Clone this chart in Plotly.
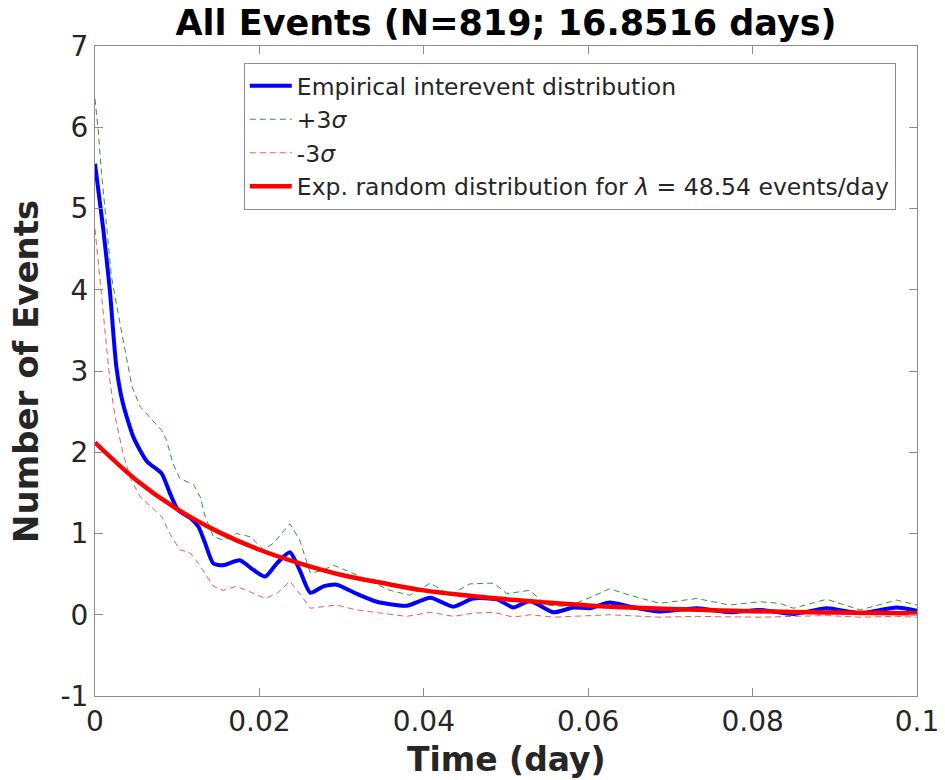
import plotly.graph_objects as go

# Empirical inter-event distribution (time in days, number of events)
emp_x = [0, 0.001, 0.0018, 0.0026, 0.0034, 0.0047, 0.0063, 0.0081, 0.0091, 0.0101,
         0.0116, 0.0126, 0.0134, 0.0144, 0.0156, 0.0176, 0.0193, 0.0207, 0.0221, 0.0237,
         0.0249, 0.0262, 0.0278, 0.0294, 0.0318, 0.0343, 0.0379, 0.0408, 0.0436, 0.0460,
         0.0489, 0.0509, 0.0529, 0.0558, 0.0582, 0.0602, 0.0626, 0.0651, 0.0687, 0.0732,
         0.0772, 0.0809, 0.0850, 0.0890, 0.0931, 0.0975, 0.1]
emp_y = [5.55, 4.75, 4.00, 3.05, 2.60, 2.18, 1.89, 1.74, 1.50, 1.29,
         1.19, 1.08, 0.88, 0.63, 0.61, 0.67, 0.55, 0.47, 0.63, 0.77,
         0.55, 0.27, 0.35, 0.37, 0.26, 0.16, 0.11, 0.21, 0.10, 0.20,
         0.19, 0.09, 0.17, 0.03, 0.09, 0.08, 0.15, 0.10, 0.04, 0.08,
         0.03, 0.06, 0.01, 0.08, 0.02, 0.09, 0.05]

# Upper bound (+3 sigma)
up_x = [0, 0.0004, 0.0008, 0.0014, 0.002, 0.0032, 0.0045, 0.0055, 0.0070, 0.0081,
        0.0087, 0.0095, 0.0103, 0.0120, 0.0128, 0.0134, 0.0144, 0.0156, 0.0172, 0.0189,
        0.0205, 0.0217, 0.0237, 0.0249, 0.0262, 0.0278, 0.0290, 0.0314, 0.0339, 0.0359,
        0.0383, 0.0408, 0.0432, 0.0456, 0.0485, 0.0501, 0.0529, 0.0549, 0.0574, 0.0602,
        0.0626, 0.0651, 0.0687, 0.0732, 0.0772, 0.0809, 0.0833, 0.0850, 0.0890, 0.0931,
        0.0975, 0.1]
up_y = [6.35, 5.95, 5.43, 4.82, 4.16, 3.50, 2.81, 2.56, 2.40, 2.27,
        2.15, 1.86, 1.68, 1.60, 1.45, 1.21, 0.96, 0.92, 1.00, 0.96,
        0.80, 0.88, 1.12, 0.92, 0.51, 0.55, 0.61, 0.51, 0.39, 0.30,
        0.24, 0.39, 0.24, 0.38, 0.39, 0.26, 0.30, 0.12, 0.10, 0.21,
        0.32, 0.24, 0.14, 0.20, 0.12, 0.16, 0.14, 0.08, 0.19, 0.06,
        0.18, 0.12]

# Lower bound (-3 sigma)
lo_x = [0, 0.0006, 0.0012, 0.0018, 0.0024, 0.0034, 0.0043, 0.0055, 0.0081, 0.0091,
        0.0103, 0.0116, 0.0126, 0.0144, 0.0156, 0.0172, 0.0189, 0.0207, 0.0221, 0.0237,
        0.0249, 0.0262, 0.0278, 0.0294, 0.0318, 0.0359, 0.0379, 0.0408, 0.0436, 0.0460,
        0.0485, 0.0509, 0.0529, 0.0558, 0.0626, 0.0687, 0.0732, 0.0809, 0.0890, 0.0931,
        0.0975, 0.1]
lo_y = [4.75, 4.12, 3.50, 2.89, 2.46, 1.99, 1.68, 1.45, 1.21, 1.00,
        0.80, 0.76, 0.63, 0.35, 0.30, 0.35, 0.28, 0.20, 0.26, 0.41,
        0.26, 0.08, 0.10, 0.12, 0.06, 0.00, -0.02, 0.03, -0.02, 0.02,
        0.03, -0.03, 0.00, -0.03, 0.00, -0.03, -0.02, -0.03, -0.01, -0.03,
        -0.02, -0.03]

# Exponential (random) reference distribution, lambda = 48.54 events/day
exp_x = [0, 0.005, 0.01, 0.015, 0.02, 0.025, 0.03, 0.035, 0.04, 0.045, 0.05,
         0.055, 0.06, 0.065, 0.07, 0.075, 0.08, 0.085, 0.09, 0.095, 0.1]
exp_y = [2.12, 1.66, 1.30, 1.02, 0.80, 0.63, 0.49, 0.39, 0.30, 0.24, 0.19,
         0.15, 0.115, 0.09, 0.07, 0.056, 0.044, 0.034, 0.027, 0.021, 0.017]

x_ticks = [0, 0.02, 0.04, 0.06, 0.08, 0.1]
x_tick_text = ["0", "0.02", "0.04", "0.06", "0.08", "0.1"]
y_ticks = [-1, 0, 1, 2, 3, 4, 5, 6, 7]
y_tick_text = ["-1", "0", "1", "2", "3", "4", "5", "6", "7"]

FONT = "DejaVu Sans"
AXIS_GREY = "#8c8c8c"
TEXT = "#262626"

fig = go.Figure()
fig.add_trace(go.Scatter(x=emp_x, y=emp_y, mode="lines", name="Empirical interevent distribution",
                         line=dict(color="rgb(0,0,255)", width=4, shape="spline", smoothing=0.6)))
fig.add_trace(go.Scatter(x=up_x, y=up_y, mode="lines", name="+3<i>σ</i>",
                         line=dict(color="rgb(50,150,50)", width=1, dash="6px,4px")))
fig.add_trace(go.Scatter(x=lo_x, y=lo_y, mode="lines", name="-3<i>σ</i>",
                         line=dict(color="rgb(240,90,90)", width=1, dash="6px,4px")))
fig.add_trace(go.Scatter(x=exp_x, y=exp_y, mode="lines",
                         name="Exp. random distribution for <i>λ</i> = 48.54 events/day",
                         line=dict(color="rgb(255,0,0)", width=4.5, shape="spline")))

axis_common = dict(
    showgrid=False, zeroline=False, showline=True, linecolor=AXIS_GREY, linewidth=1.2,
    mirror="allticks", ticks="inside", ticklen=8, tickcolor=AXIS_GREY, tickwidth=1,
    tickfont=dict(family=FONT, size=28, color=TEXT), automargin=False,
)

fig.update_layout(
    width=945, height=780,
    margin=dict(l=95, r=28, t=46, b=84),
    paper_bgcolor="white", plot_bgcolor="white",
    title=dict(text="<b>All Events (N=819; 16.8516 days)</b>", x=(95 + 917) / 2 / 945, xanchor="center",
               y=0.971, yanchor="middle", font=dict(family=FONT, size=35, color="black")),
    xaxis=dict(range=[0, 0.1], tickvals=x_ticks, ticktext=x_tick_text, **axis_common),
    yaxis=dict(range=[-1, 7], tickvals=y_ticks, ticktext=y_tick_text, **axis_common),
    legend=dict(x=0.181, y=0.974, xanchor="left", yanchor="top",
                bgcolor="white", bordercolor=AXIS_GREY, borderwidth=1, itemwidth=42,
                font=dict(family=FONT, size=23.5, color=TEXT), tracegroupgap=0),
    showlegend=True,
)

# Axis titles
fig.add_annotation(text="<b>Time (day)</b>", xref="paper", yref="paper", x=0.5, y=-0.098,
                   xanchor="center", yanchor="middle", showarrow=False,
                   font=dict(family=FONT, size=33, color=TEXT))
fig.add_annotation(text="<b>Number of Events</b>", xref="paper", yref="paper", x=-0.084, y=0.5,
                   xanchor="center", yanchor="middle", textangle=-90, showarrow=False,
                   font=dict(family=FONT, size=34, color=TEXT))

fig.write_html("out.html")
